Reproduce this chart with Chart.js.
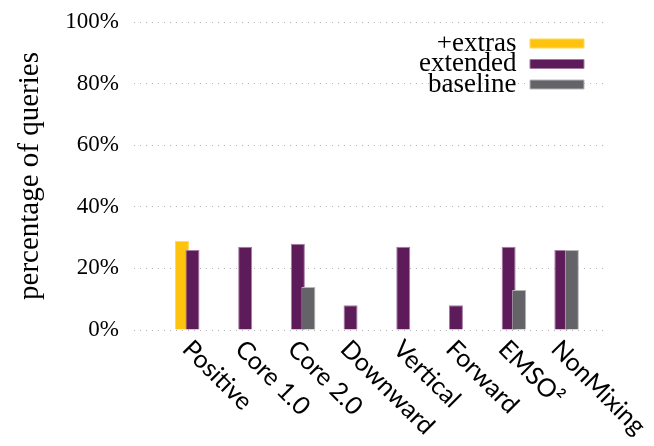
<!DOCTYPE html>
<html>
<head>
<meta charset="utf-8">
<script src="https://cdn.jsdelivr.net/npm/chart.js@4.4.1/dist/chart.umd.min.js"></script>
<style>
    html, body { margin: 0; padding: 0; background: #fff; }
</style>
</head>
<body>
<canvas id="queriesChart" width="654" height="446"></canvas>
<script>
// Data
const categories = ['Positive', 'Core 1.0', 'Core 2.0', 'Downward', 'Vertical', 'Forward', 'EMSO²', 'NonMixing'];
const extrasValues = [29, null, null, null, null, null, null, null];
const extendedValues = [26, 27, 28, 8, 27, 8, 27, 26];
const baselineValues = [null, null, 14, null, null, null, 13, 26];
const yTickValues = [0, 20, 40, 60, 80, 100];

const serif = '"Liberation Serif", "DejaVu Serif", serif';

const toPoints = values => values.map((v, i) => ({ x: i, y: v }));

// Rotated category labels, starting at the tick and running down-right
const categoryLabels = {
    id: 'categoryLabels',
    afterDraw(chart) {
        const { ctx, chartArea } = chart;
        const x = chart.scales.x;
        ctx.save();
        ctx.font = '25px Lato';
        ctx.fillStyle = '#000';
        ctx.textAlign = 'left';
        ctx.textBaseline = 'top';
        categories.forEach((label, i) => {
            ctx.save();
            ctx.translate(x.getPixelForValue(i) + 3, chartArea.bottom + 6);
            ctx.rotate(Math.PI / 4);
            ctx.fillText(label, 0, 0);
            ctx.restore();
        });
        ctx.restore();
    }
};

// Later datasets paint over earlier ones (right bar on top)
const paintOrder = {
    id: 'paintOrder',
    beforeDatasetsDraw(chart) {
        chart.getSortedVisibleDatasetMetas().forEach(meta => meta.controller.draw());
        return false;
    }
};

// Put the legend in the upper right of the plot
const legendSpot = {
    id: 'legendSpot',
    afterLayout(chart) {
        const lg = chart.legend;
        const area = chart.chartArea;
        lg.left = area.right - 26.5 - lg.width;
        lg.right = area.right;
        lg.top = area.top + 14.5;
        lg.bottom = area.bottom;
    }
};

const barStyle = {
    borderWidth: 1,
    categoryPercentage: 0.6,
    barPercentage: 1.33
};

new Chart(document.getElementById('queriesChart'), {
    type: 'bar',
    data: {
        datasets: [{
            label: '+extras',
            data: toPoints(extrasValues),
            backgroundColor: '#fec30f',
            borderColor: '#ffd95a',
            ...barStyle
        }, {
            label: 'extended',
            data: toPoints(extendedValues),
            backgroundColor: '#5e1b5a',
            borderColor: '#a57ca3',
            ...barStyle
        }, {
            label: 'baseline',
            data: toPoints(baselineValues),
            backgroundColor: '#636368',
            borderColor: '#b7b7ba',
            ...barStyle
        }]
    },
    options: {
        responsive: false,
        animation: false,
        layout: {
            padding: { top: 22, right: 50, bottom: 116, left: 0 }
        },
        scales: {
            x: {
                type: 'linear',
                display: false,
                offset: false,
                min: -1.11,
                max: 7.81,
                afterBuildTicks: scale => {
                    scale.ticks = categories.map((_, i) => ({ value: i }));
                }
            },
            y: {
                min: 0,
                max: 100,
                afterBuildTicks: scale => {
                    scale.ticks = yTickValues.map(v => ({ value: v }));
                },
                afterFit: scale => {
                    scale.width = 134;
                    scale.paddingTop = 0;
                    scale.paddingBottom = 0;
                },
                grid: {
                    color: '#b4b4b4',
                    lineWidth: 1,
                    drawTicks: false
                },
                border: {
                    display: false,
                    dash: [1, 5]
                },
                ticks: {
                    padding: 15,
                    color: '#000',
                    font: { family: serif, size: 23 },
                    callback: v => v + '%'
                },
                title: {
                    display: true,
                    text: 'percentage of queries',
                    color: '#000',
                    font: { family: serif, size: 29 },
                    padding: { top: 13, bottom: 0 }
                }
            }
        },
        plugins: {
            legend: {
                position: 'chartArea',
                align: 'start',
                rtl: true,
                textDirection: 'ltr',
                labels: {
                    boxWidth: 54,
                    boxHeight: 9,
                    padding: -6.5,
                    color: '#000',
                    font: { family: serif, size: 27 }
                }
            },
            tooltip: { enabled: false }
        }
    },
    plugins: [paintOrder, legendSpot, categoryLabels]
});
</script>
</body>
</html>
